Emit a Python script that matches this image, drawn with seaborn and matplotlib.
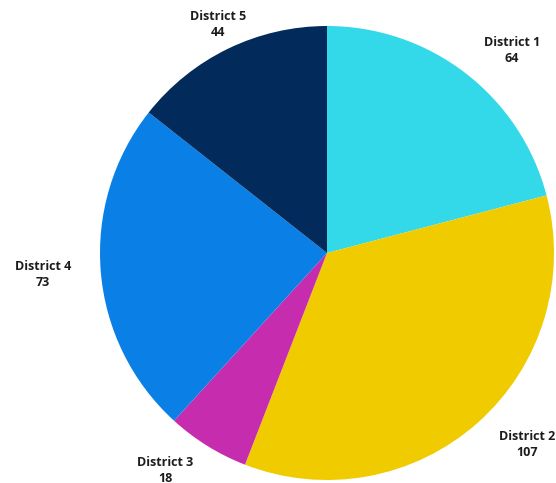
"""
Pie chart of counts per district.
"""

import matplotlib
matplotlib.use("Agg")
import matplotlib.pyplot as plt
import seaborn as sns

districts = ["District 1", "District 2", "District 3", "District 4", "District 5"]
counts = [64, 107, 18, 73, 44]
colors = ["#33D9E8", "#F0CB00", "#C62CAE", "#0A80E6", "#022B5B"]

# label anchor points in pixels (x, y from top)
label_px = [(512, 51), (527, 444), (165, 470), (43, 274), (218, 25)]


def plot_pie():
    sns.set_style("white")
    plt.rcParams["font.family"] = ["Open Sans", "DejaVu Sans"]

    W, H = 556, 483
    fig = plt.figure(figsize=(W / 100, H / 100), dpi=100)
    ax = fig.add_axes([0, 0, 1, 1])

    cx, cy, r = 327, 253, 227
    ax.pie(counts, colors=colors, startangle=90, counterclock=False,
           center=(cx, H - cy), radius=r,
           wedgeprops={"linewidth": 0})

    for name, n, (x, y) in zip(districts, counts, label_px):
        ax.text(x, H - y, f"{name}\n{n}", ha="center", va="center",
                fontsize=9, fontweight="bold", color="#1c1c1c",
                linespacing=1.3)

    ax.set_xlim(0, W)
    ax.set_ylim(0, H)
    ax.set_aspect("equal")
    ax.axis("off")
    fig.savefig("out.png", dpi=100, facecolor="white")


if __name__ == "__main__":
    plot_pie()
